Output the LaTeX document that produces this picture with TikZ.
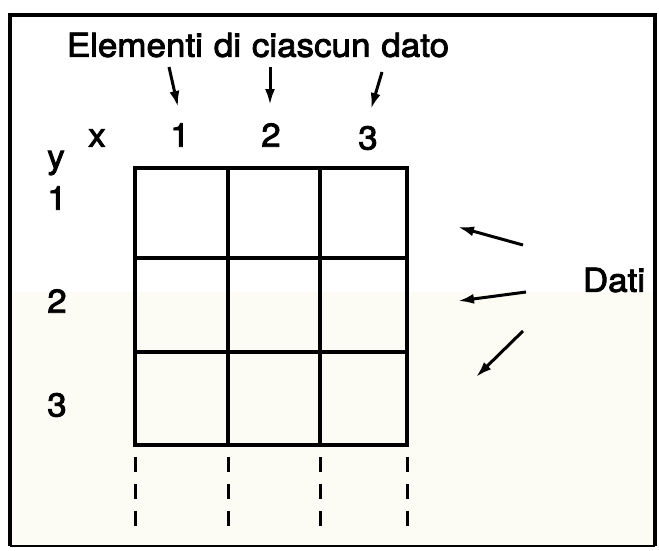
\documentclass[tikz,border=0pt]{standalone}
\usepackage{fontspec}
\setmainfont{TeX Gyre Heros}
\newfontfamily\medfont[FakeBold=2.6,FakeStretch=1.06]{TeX Gyre Heros}
\usetikzlibrary{arrows.meta}
\definecolor{tint}{RGB}{252,252,245}
\begin{document}
\begin{tikzpicture}[x=1pt,y=-1pt,
  lbl/.style={font=\medfont\fontsize{33}{36}\selectfont, inner sep=0pt},
  gridline/.style={line width=3.2pt},
  arr/.style={line width=3pt,-{Latex[length=16pt,width=10pt]}},
  dsh/.style={line width=3pt,dash pattern=on 15pt off 12pt}]
\useasboundingbox (0,0) rectangle (659,550);
\fill[white] (0,0) rectangle (659,550);
\fill[tint] (10,292) rectangle (655,546);
\draw[line width=4pt] (10,546) -- (10,15) -- (655,15) -- (655,546);
\draw[line width=2.5pt] (10,546) -- (655,546);
% title
\node[lbl] (title) at (258,45) {\spaceskip=0.33em Elementi di ciascun dato};
% column labels
\node[lbl] (x) at (97,138) {x};
\node[lbl] (c1) at (180,135) {1};
\node[lbl] (c2) at (271,135) {2};
\node[lbl] (c3) at (368,138) {3};
\node[lbl] (y) at (56,163) {y};
\node[lbl] (r1) at (57,198) {1};
\node[lbl] (r2) at (57,301) {2};
\node[lbl] (r3) at (57,405) {3};
\node[lbl] (dati) at (614,280) {Dati};
% arrows from title
\coordinate (a1s) at (169,67); \coordinate (a1e) at (178,107);
\coordinate (a2s) at (270,67); \coordinate (a2e) at (270,105);
\coordinate (a3s) at (382,72); \coordinate (a3e) at (371,109);
\draw[arr] (a1s) -- (a1e);
\draw[arr] (a2s) -- (a2e);
\draw[arr] (a3s) -- (a3e);
% arrows from Dati
\coordinate (d1s) at (523,245); \coordinate (d1e) at (458,227);
\coordinate (d2s) at (526,292); \coordinate (d2e) at (458,301);
\coordinate (d3s) at (523,331); \coordinate (d3e) at (476,377);
\draw[arr] (d1s) -- (d1e);
\draw[arr] (d2s) -- (d2e);
\draw[arr] (d3s) -- (d3e);
% grid
\draw[gridline] (135,168) rectangle (407,445);
\draw[gridline] (228,168) -- (228,445);
\draw[gridline] (320,168) -- (320,445);
\draw[gridline] (135,258) -- (407,258);
\draw[gridline] (135,352) -- (407,352);
% dashed continuations
\foreach \xx in {135,228,320,407} {
  \draw[dsh] (\xx,457) -- (\xx,537);
}
\end{tikzpicture}
\end{document}
